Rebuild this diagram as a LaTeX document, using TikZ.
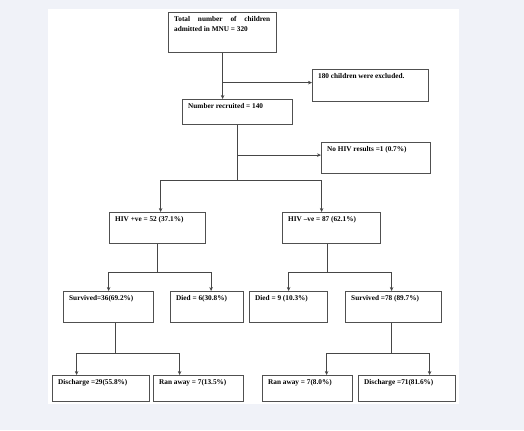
\documentclass[tikz,border=0pt]{standalone}
\usepackage{fontspec}
\setmainfont{Liberation Serif}
\usetikzlibrary{arrows.meta}
\definecolor{pagebg}{RGB}{240,242,248}
\definecolor{boxline}{RGB}{80,80,80}
\definecolor{linkline}{RGB}{70,70,70}
\hyphenpenalty=10000
\tikzset{
  box/.style={draw=boxline,line width=1.2bp,anchor=north west,inner sep=0pt},
  boxtext/.style={anchor=north west,inner sep=0pt,xshift=6bp,yshift=-4.5bp,
    font=\fontsize{7.3}{10}\selectfont\bfseries},
  arr/.style={draw=linkline,line width=.9bp,-{Stealth[length=4bp,width=3.6bp]}},
  link/.style={draw=linkline,line width=.9bp}
}
\begin{document}
\begin{tikzpicture}[x=1bp,y=-1bp]
  \useasboundingbox (0,0) rectangle (524,430);
  \fill[pagebg] (0,0) rectangle (524,430);
  \fill[white] (48,9) rectangle (459,404);
  % boxes
  \node[box,minimum width=108bp,minimum height=40bp,
    label={[boxtext,text width=96bp,align=justify]north west:Total number of children admitted in MNU = 320}] (total) at (168,12) {};
  \node[box,minimum width=116bp,minimum height=32bp,
    label={[boxtext]north west:180 children were excluded.}] (excl) at (312,69) {};
  \node[box,minimum width=110bp,minimum height=25bp,
    label={[boxtext]north west:Number recruited = 140}] (recr) at (182,99) {};
  \node[box,minimum width=109bp,minimum height=31bp,
    label={[boxtext]north west:No HIV results =1 (0.7\%)}] (nohiv) at (321,142) {};
  \node[box,minimum width=96bp,minimum height=31bp,
    label={[boxtext]north west:HIV +ve = 52 (37.1\%)}] (hivp) at (109,212) {};
  \node[box,minimum width=98bp,minimum height=31bp,
    label={[boxtext]north west:HIV --ve = 87 (62.1\%)}] (hivn) at (282,212) {};
  \node[box,minimum width=90bp,minimum height=31bp,
    label={[boxtext]north west:Survived=36(69.2\%)}] (surv1) at (63,291) {};
  \node[box,minimum width=73bp,minimum height=31bp,
    label={[boxtext]north west:Died = 6(30.8\%)}] (died1) at (170,291) {};
  \node[box,minimum width=78bp,minimum height=31bp,
    label={[boxtext]north west:Died = 9 (10.3\%)}] (died2) at (249,291) {};
  \node[box,minimum width=96bp,minimum height=31bp,
    label={[boxtext]north west:Survived =78 (89.7\%)}] (surv2) at (345,291) {};
  \node[box,minimum width=97bp,minimum height=26bp,
    label={[boxtext]north west:Discharge =29(55.8\%)}] (dis1) at (52,375) {};
  \node[box,minimum width=90bp,minimum height=26bp,
    label={[boxtext]north west:Ran away = 7(13.5\%)}] (ran1) at (153,375) {};
  \node[box,minimum width=90bp,minimum height=26bp,
    label={[boxtext]north west:Ran away = 7(8.0\%)}] (ran2) at (262,375) {};
  \node[box,minimum width=97bp,minimum height=26bp,
    label={[boxtext]north west:Discharge =71(81.6\%)}] (dis2) at (358,375) {};
  % connectors
  \draw[arr] (total.south) -- (total.south |- recr.north);
  \draw[arr] ([yshift=3bp]total.south |- excl.west) -- ([yshift=3bp]excl.west);
  \draw[arr] ([yshift=3bp]recr.south |- nohiv.west) -- ([yshift=3bp]nohiv.west);
  \draw[arr] (recr.south) -- ++(0,55) -| ([xshift=3bp]hivp.north);
  \draw[arr] (recr.south) ++(0,55) -| ([xshift=-10bp]hivn.north);
  \draw[arr] (hivp.south) -- ++(0,28) -| (surv1.north);
  \draw[arr] (hivp.south) ++(0,28) -| ([xshift=4bp]died1.north);
  \draw[arr] ([xshift=-4bp]hivn.south) -- ++(0,28) -| (died2.north);
  \draw[arr] ([xshift=-4bp]hivn.south) ++(0,28) -| ([xshift=-2bp]surv2.north);
  \draw[arr] ([xshift=7bp]surv1.south) -- ++(0,30) -| ([xshift=-24.5bp]dis1.north);
  \draw[arr] ([xshift=7bp]surv1.south) ++(0,30) -| ([xshift=-19bp]ran1.north);
  \draw[arr] ([xshift=-2bp]surv2.south) -- ++(0,30) -| ([xshift=19bp]ran2.north);
  \draw[arr] ([xshift=-2bp]surv2.south) ++(0,30) -| ([xshift=22.5bp]dis2.north);
\end{tikzpicture}
\end{document}
